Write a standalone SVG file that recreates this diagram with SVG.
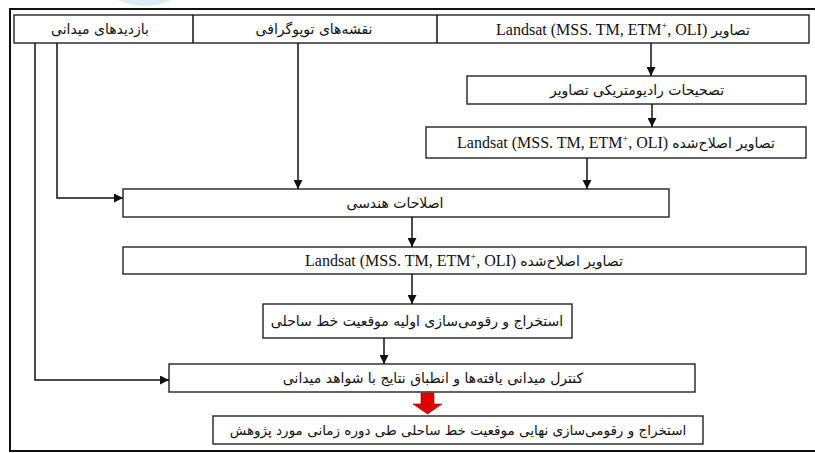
<svg xmlns="http://www.w3.org/2000/svg" width="815" height="453" viewBox="0 0 815 453">
<style>
.box{fill:#fff;stroke:#222;stroke-width:1.4}
.ln{fill:none;stroke:#111;stroke-width:1.5}
.fa{font-family:"DejaVu Sans",sans-serif;font-size:14px;fill:#111;text-anchor:middle}
.en{font-family:"Liberation Serif","Times New Roman",serif;font-weight:normal;font-size:16px;fill:#111;text-anchor:middle}
.fs{font-family:"DejaVu Sans",sans-serif;font-size:14px}
.sup{font-size:10px}
</style>
<defs>
<marker id="ah" viewBox="0 0 10 10" refX="10" refY="5" markerWidth="9" markerHeight="9" markerUnits="userSpaceOnUse" orient="auto">
<path d="M0,0 L10,5 L0,10 Z" fill="#111"/>
</marker>
</defs>
<rect width="815" height="453" fill="#fff"/>
<path d="M118,0 Q145,12 172,0 Z" fill="#cfeaf3" opacity="0.8"/>
<path d="M10,452 V9 H816 M10,451 H816" fill="none" stroke="#111" stroke-width="2"/>
<g id="header">
<rect class="box" x="14" y="15" width="795" height="28"/>
<line class="ln" x1="193" y1="15" x2="193" y2="43"/>
<line class="ln" x1="437" y1="15" x2="437" y2="43"/>
</g>
<g id="n-field"><text class="fa" x="100" y="34">بازدیدهای میدانی</text></g>
<g id="n-topo"><text class="fa" x="314" y="34">نقشه‌های توپوگرافی</text></g>
<g id="n-landsat"><text class="en" x="623" y="35">Landsat (MSS. TM, ETM<tspan class="sup" dy="-6">+</tspan><tspan dy="6">, OLI) </tspan><tspan class="fs">تصاویر</tspan></text></g>
<g id="n-radio"><rect class="box" x="467" y="76" width="339" height="28"/><text class="fa" x="637" y="95">تصحیحات رادیومتریکی تصاویر</text></g>
<g id="n-corr1"><rect class="box" x="426" y="127" width="380" height="31"/><text class="en" x="616" y="148">Landsat (MSS. TM, ETM<tspan class="sup" dy="-6">+</tspan><tspan dy="6">, OLI) </tspan><tspan class="fs">تصاویر اصلاح‌شده</tspan></text></g>
<g id="n-geo"><rect class="box" x="123" y="189" width="546" height="28"/><text class="fa" x="395" y="208">اصلاحات هندسی</text></g>
<g id="n-corr2"><rect class="box" x="123" y="247" width="683" height="27"/><text class="en" x="464" y="266">Landsat (MSS. TM, ETM<tspan class="sup" dy="-6">+</tspan><tspan dy="6">, OLI) </tspan><tspan class="fs">تصاویر اصلاح‌شده</tspan></text></g>
<g id="n-extract"><rect class="box" x="263" y="304" width="309" height="34"/><text class="fa" x="417" y="326">استخراج و رقومی‌سازی اولیه موقعیت خط ساحلی</text></g>
<g id="n-control"><rect class="box" x="169" y="364" width="526" height="28"/><text class="fa" x="433" y="383">کنترل میدانی یافته‌ها و انطباق نتایج با شواهد میدانی</text></g>
<g id="n-final"><rect class="box" x="213" y="416" width="490" height="28"/><text class="fa" x="458" y="435" style="font-size:13.5px">استخراج و رقومی‌سازی نهایی موقعیت خط ساحلی طی دوره زمانی مورد پژوهش</text></g>
<g id="connectors">
<line class="ln" x1="651" y1="43" x2="651" y2="76" marker-end="url(#ah)"/>
<line class="ln" x1="652" y1="104" x2="652" y2="127" marker-end="url(#ah)"/>
<line class="ln" x1="587" y1="158" x2="587" y2="189" marker-end="url(#ah)"/>
<line class="ln" x1="298" y1="43" x2="298" y2="189" marker-end="url(#ah)"/>
<path class="ln" d="M57,43 V198 H123" marker-end="url(#ah)"/>
<line class="ln" x1="412" y1="217" x2="412" y2="247" marker-end="url(#ah)"/>
<line class="ln" x1="412" y1="274" x2="412" y2="304" marker-end="url(#ah)"/>
<line class="ln" x1="384" y1="338" x2="384" y2="364" marker-end="url(#ah)"/>
<path class="ln" d="M35,43 V380 H169" marker-end="url(#ah)"/>
<path d="M421,393 H434 V404 H442 L427.5,414 L413,404 H421 Z" fill="#e00000" stroke="#900" stroke-width="0.6"/>
</g>
</svg>
